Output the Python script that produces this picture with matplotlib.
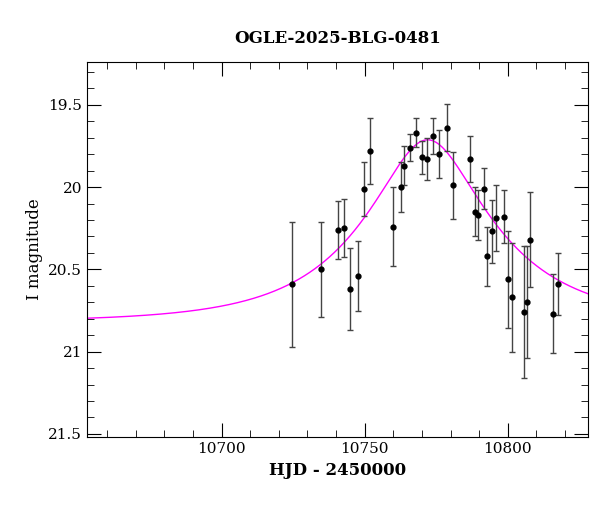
import numpy as np
import matplotlib.pyplot as plt
from matplotlib.ticker import MultipleLocator

# photometry
hjd = [10724.7, 10734.7, 10740.8, 10742.8, 10744.7, 10747.8, 10749.8, 10751.8,
       10759.8, 10762.8, 10763.7, 10765.8, 10767.8, 10769.9, 10771.7, 10773.7,
       10775.8, 10778.7, 10780.7, 10786.7, 10788.6, 10789.7, 10791.6, 10792.8,
       10794.5, 10795.8, 10798.7, 10799.9, 10801.6, 10805.7, 10806.7, 10807.8,
       10815.8, 10817.5]
mag = [20.59, 20.50, 20.26, 20.25, 20.62, 20.54, 20.01, 19.78,
       20.24, 20.00, 19.87, 19.76, 19.67, 19.82, 19.83, 19.69,
       19.80, 19.64, 19.99, 19.83, 20.15, 20.17, 20.01, 20.42,
       20.27, 20.19, 20.18, 20.56, 20.67, 20.76, 20.70, 20.32,
       20.77, 20.59]
err = [0.38, 0.29, 0.175, 0.177, 0.25, 0.21, 0.164, 0.20,
       0.24, 0.153, 0.12, 0.08, 0.087, 0.10, 0.13, 0.11,
       0.147, 0.144, 0.205, 0.14, 0.15, 0.15, 0.126, 0.18,
       0.19, 0.20, 0.16, 0.295, 0.33, 0.40, 0.34, 0.29,
       0.24, 0.19]

# point-lens model parameters
t0, u0, tE, base = 10772.0, 0.38, 43.0, 20.82

t = np.linspace(10653, 10828, 600)
u = np.sqrt(u0**2 + ((t - t0) / tE)**2)
A = (u**2 + 2) / (u * np.sqrt(u**2 + 4))
model = base - 2.5 * np.log10(A)

plt.rcParams["font.family"] = "DejaVu Serif"
fig = plt.figure(figsize=(6, 5.12), dpi=100)
ax = fig.add_axes([0.145, 0.146, 0.835, 0.733])

ax.plot(t, model, color="magenta", lw=1)
ax.errorbar(hjd, mag, yerr=err, ls="", marker="o", ms=3.5, color="black",
            ecolor="#444444", elinewidth=1, capsize=2.5, capthick=1)

ax.set_xlim(10653, 10828)
ax.set_ylim(21.52, 19.24)
ax.xaxis.set_major_locator(MultipleLocator(50))
ax.xaxis.set_minor_locator(MultipleLocator(10))
ax.yaxis.set_major_locator(MultipleLocator(0.5))
ax.yaxis.set_minor_locator(MultipleLocator(0.1))
ax.set_yticks([19.5, 20, 20.5, 21, 21.5], ["19.5", "20", "20.5", "21", "21.5"])
ax.tick_params(which="both", direction="in", top=True, right=True, labelsize=11)
ax.tick_params(which="major", length=10)
ax.tick_params(which="minor", length=5)
ax.set_xlabel("HJD - 2450000", fontsize=12, fontweight="semibold")
ax.set_ylabel("I magnitude", fontsize=12)
ax.set_title("OGLE-2025-BLG-0481", fontsize=12, pad=14, fontweight="semibold")

fig.savefig("out.png")
